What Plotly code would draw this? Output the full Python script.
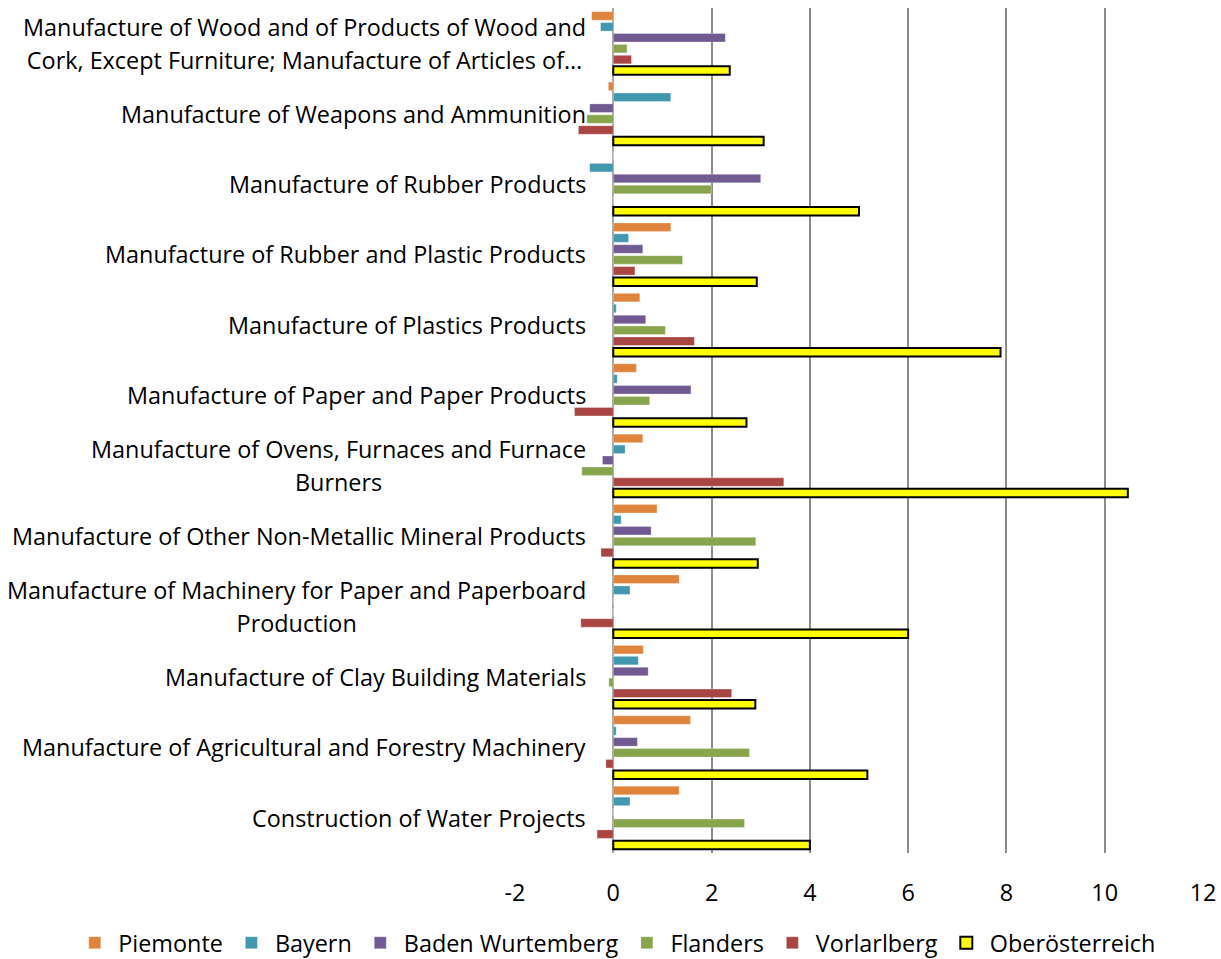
import plotly.graph_objects as go

categories = [
    "Manufacture of Wood and of Products of Wood and<br>Cork, Except Furniture; Manufacture of Articles of…",
    "Manufacture of Weapons and Ammunition",
    "Manufacture of Rubber Products",
    "Manufacture of Rubber and Plastic Products",
    "Manufacture of Plastics Products",
    "Manufacture of Paper and Paper Products",
    "Manufacture of Ovens, Furnaces and Furnace<br>Burners",
    "Manufacture of Other Non-Metallic Mineral Products",
    "Manufacture of Machinery for Paper and Paperboard<br>Production",
    "Manufacture of Clay Building Materials",
    "Manufacture of Agricultural and Forestry Machinery",
    "Construction of Water Projects",
]

piemonte = [-0.44, -0.10, 0.0, 1.17, 0.54, 0.47, 0.60, 0.89, 1.34, 0.61, 1.57, 1.34]
bayern = [-0.26, 1.17, -0.48, 0.31, 0.06, 0.08, 0.24, 0.16, 0.34, 0.51, 0.06, 0.34]
baden = [2.28, -0.48, 3.00, 0.60, 0.66, 1.58, -0.22, 0.77, 0.0, 0.71, 0.49, 0.0]
flanders = [0.28, -0.54, 2.00, 1.41, 1.06, 0.74, -0.64, 2.90, 0.0, -0.09, 2.77, 2.67]
vorarlberg = [0.37, -0.71, 0.0, 0.44, 1.65, -0.79, 3.47, -0.25, -0.66, 2.41, -0.15, -0.33]
ober = [2.37, 3.06, 5.00, 2.92, 7.88, 2.71, 10.47, 2.94, 6.00, 2.89, 5.17, 4.00]

tick_values = [-2, 0, 2, 4, 6, 8, 10, 12]
tick_labels = ["-2", "0", "2", "4", "6", "8", "10", "12"]

series = [
    ("Piemonte", piemonte, "#E0843C"),
    ("Bayern", bayern, "#4198AF"),
    ("Baden Wurtemberg", baden, "#705A91"),
    ("Flanders", flanders, "#88A54E"),
    ("Vorlarlberg", vorarlberg, "#A94643"),
    ("Oberösterreich", ober, "#FFFF00"),
]

FONT = "Open Sans"
FS = 23.4

fig = go.Figure()
for name, vals, color in series:
    is_ober = name == "Oberösterreich"
    fig.add_trace(go.Bar(
        y=categories, x=vals, name=name, orientation="h",
        marker=dict(color=color,
                    line=dict(color="black" if is_ober else "rgba(255,255,255,0.6)",
                              width=2 if is_ober else 0.5)),
    ))

annotations = []
for cat in categories:
    lines = cat.split("<br>")
    if len(lines) > 1:
        txt = "<br>".join(f"<span style='font-size:{FS}px'>{ln}</span>" for ln in lines)
        size = 25.5
    else:
        txt = cat
        size = FS
    annotations.append(dict(
        x=0, y=cat, xref="x", yref="y", text=txt, showarrow=False,
        xanchor="right", yanchor="middle", align="center", xshift=-25,
        font=dict(family=FONT, size=size, color="black"),
    ))

fig.update_layout(
    width=1221, height=959,
    margin=dict(l=515, r=18, t=8, b=106, autoexpand=False),
    paper_bgcolor="white", plot_bgcolor="white",
    barmode="group", bargap=0.07, bargroupgap=0.22,
    font=dict(family=FONT, size=FS, color="black"),
    showlegend=True,
    legend=dict(orientation="h", x=-0.645, xanchor="left", itemwidth=37,
                y=-0.1065, yanchor="middle", font=dict(family=FONT, size=FS, color="black"),
                traceorder="normal", bgcolor="rgba(0,0,0,0)"),
    annotations=annotations,
    xaxis=dict(range=[-2, 12], tickmode="array", tickvals=tick_values, ticktext=tick_labels,
               showgrid=True, gridcolor="#8C8C8C", gridwidth=2,
               zeroline=True, zerolinecolor="#A6A6A6", zerolinewidth=2,
               ticks="outside", ticklen=19, tickcolor="rgba(0,0,0,0)",
               tickfont=dict(family=FONT, size=FS, color="black"), showline=False),
    yaxis=dict(autorange="reversed", showticklabels=False, showgrid=False, zeroline=False,
               showline=False, ticks=""),
)

fig.write_html("out.html")
